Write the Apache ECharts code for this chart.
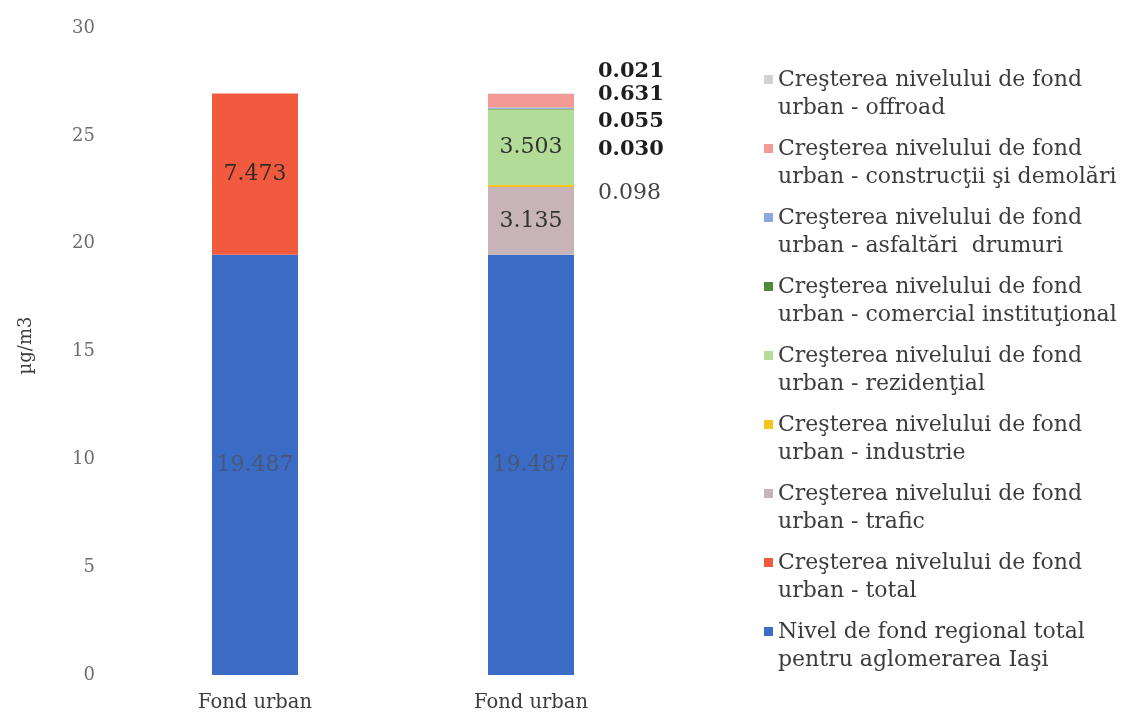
<!DOCTYPE html>
<html>
<head>
<meta charset="utf-8">
<script src="https://cdn.jsdelivr.net/npm/echarts@6/dist/echarts.min.js"></script>
<style>
  html, body { margin: 0; padding: 0; background: #ffffff; }
  #chart { width: 1130px; height: 716px; }
</style>
</head>
<body>
<div id="chart"></div>
<script>
// Categories on the x axis (two stacked columns)
const categories = ['Fond urban', 'Fond urban'];

// Contributions in µg/m3, per column [left, right]
const regionalTotal   = [19.487, 19.487];
const urbanTotal      = [7.473, null];
const urbanTrafic     = [null, 3.135];
const urbanIndustrie  = [null, 0.098];
const urbanRezidential = [null, 3.503];
const urbanComercial  = [null, 0.030];
const urbanAsfaltari  = [null, 0.055];
const urbanConstructii = [null, 0.631];
const urbanOffroad    = [null, 0.021];

// Y axis ticks
const yTicks = [0, 5, 10, 15, 20, 25, 30];

const SERIF = "'DejaVu Serif', 'Liberation Serif', serif";

const names = {
  regional: 'Nivel de fond regional total\npentru aglomerarea Iaşi',
  total: 'Creşterea nivelului de fond\nurban - total',
  trafic: 'Creşterea nivelului de fond\nurban - trafic',
  industrie: 'Creşterea nivelului de fond\nurban - industrie',
  rezidential: 'Creşterea nivelului de fond\nurban - rezidenţial',
  comercial: 'Creşterea nivelului de fond\nurban - comercial instituţional',
  asfaltari: 'Creşterea nivelului de fond\nurban - asfaltări  drumuri',
  constructii: 'Creşterea nivelului de fond\nurban - construcţii şi demolări',
  offroad: 'Creşterea nivelului de fond\nurban - offroad'
};

const fmt = p => (p.value == null ? '' : Number(p.value).toFixed(3));

function insideLabel(color) {
  return { show: true, position: 'inside', formatter: fmt, color: color,
           fontFamily: SERIF, fontSize: 22 };
}
function sideLabel(dy, bold) {
  return { show: true, position: 'right', distance: 24, offset: [0, dy],
           formatter: fmt, color: bold ? '#1e1e1e' : '#444444',
           fontWeight: bold ? 'bold' : 'normal', fontFamily: SERIF,
           fontSize: bold ? 21 : 22 };
}

function bar(name, data, color, label) {
  return {
    type: 'bar', name: name, stack: 'fond', data: data, barWidth: 86,
    itemStyle: { color: color }, label: label || { show: false },
    emphasis: { disabled: true }
  };
}

const series = [
  bar(names.regional, regionalTotal, '#3a6cc6', insideLabel('#48577a')),
  bar(names.total, urbanTotal, '#f25a40', insideLabel('#3a2a28')),
  bar(names.trafic, urbanTrafic, '#c6b4b8', insideLabel('#333333')),
  bar(names.industrie, urbanIndustrie, '#f6c21c', sideLabel(7, false)),
  bar(names.rezidential, urbanRezidential, '#b2dc98', insideLabel('#333333')),
  bar(names.comercial, urbanComercial, '#4e8a3a', sideLabel(40, true)),
  bar(names.asfaltari, urbanAsfaltari, '#8aa8e0', sideLabel(13, true)),
  bar(names.constructii, urbanConstructii, '#f49a94', sideLabel(-6, true)),
  bar(names.offroad, urbanOffroad, '#d2d2d2', sideLabel(-22, true))
];

// Legend lists the layers from top of the stack down
const legendOrder = series.map(s => s.name).reverse();

const chart = echarts.init(document.getElementById('chart'), null, { renderer: 'canvas' });
chart.setOption({
  animation: false,
  backgroundColor: '#ffffff',
  grid: { left: 117, right: 461, top: 28, bottom: 41, containLabel: false },
  xAxis: {
    type: 'category', data: categories,
    axisLine: { show: false }, axisTick: { show: false },
    axisLabel: { color: '#3c3c3c', fontFamily: SERIF, fontSize: 19.5, margin: 18 }
  },
  yAxis: {
    type: 'value', min: yTicks[0], max: yTicks[yTicks.length - 1], interval: 5,
    name: 'µg/m3', nameLocation: 'middle', nameGap: 82, nameRotate: 90,
    nameTextStyle: { color: '#3c3c3c', fontFamily: SERIF, fontSize: 18, padding: [0, 0, 0, 12] },
    axisLine: { show: false }, axisTick: { show: false },
    splitLine: { show: false },
    axisLabel: { color: '#6e6e6e', fontFamily: SERIF, fontSize: 18, margin: 22 }
  },
  legend: {
    orient: 'vertical', left: 764, top: 66, padding: 0,
    data: legendOrder,
    itemWidth: 9, itemHeight: 56, itemGap: 13,
    icon: 'path://M0,0h0.01v0.01h-0.01z M0,9h9v9h-9z M0,55.99h0.01v0.01h-0.01z',
    selectedMode: false,
    textStyle: { color: '#3c3c3c', fontFamily: SERIF, fontSize: 22, lineHeight: 28 }
  },
  series: series
});
</script>
</body>
</html>
